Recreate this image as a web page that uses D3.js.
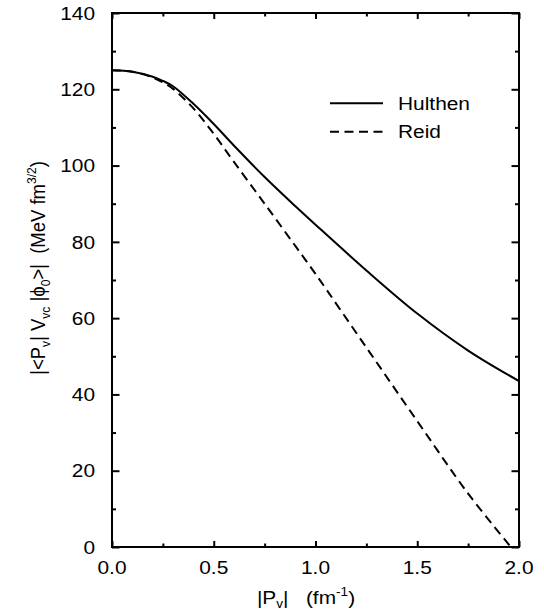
<!DOCTYPE html>
<html><head><meta charset="utf-8">
<script src="https://cdn.jsdelivr.net/npm/d3@7"></script>
<style>
html,body{margin:0;padding:0;background:#fff;}
text{font-family:"Liberation Sans",Arial,Helvetica,sans-serif;fill:#000;white-space:pre;}
</style></head>
<body>
<svg id="chart" width="544" height="616"></svg>
<script>
// Data
const momentum = [0, 0.1, 0.2, 0.25, 0.3, 0.4, 0.5, 0.6, 0.75, 0.9, 1.0, 1.25, 1.5, 1.75, 2.0];
const hulthen  = [125, 124.6, 123.3, 122.2, 120.8, 116.2, 110.9, 105.2, 97.0, 89.4, 84.5, 72.5, 61.2, 51.5, 43.5];
const reidMomentum = [0, 0.1, 0.2, 0.25, 0.3, 0.4, 0.5, 0.6, 0.75, 0.9, 1.0, 1.25, 1.5, 1.75, 1.96];
const reid     = [125, 124.6, 123.1, 121.8, 120.1, 115.0, 108.3, 100.9, 90.0, 79.0, 71.6, 52.3, 33.0, 14.0, 0];
const xTicks = [0, 0.5, 1.0, 1.5, 2.0];
const xTickLabels = ["0.0", "0.5", "1.0", "1.5", "2.0"];
const yTicks = [0, 20, 40, 60, 80, 100, 120, 140];
const yTickLabels = ["0", "20", "40", "60", "80", "100", "120", "140"];
const seriesNames = ["Hulthen", "Reid"];

const L = 112, R = 519, T = 13, B = 547;
const SX = 1.13, FS = 18.5;
const svg = d3.select("#chart");
const x = d3.scaleLinear().domain([0, 2]).range([L, R]);
const y = d3.scaleLinear().domain([0, 140]).range([B, T]);

// ticks
const g = svg.append("g");
function axisStyle(sel){ sel.select(".domain").remove(); sel.selectAll("line").attr("stroke","#000").attr("stroke-width",2); sel.selectAll("text").remove(); }
g.append("g").attr("transform",`translate(0,${B})`).call(d3.axisBottom(x).tickValues(xTicks).tickSize(-6).tickSizeOuter(0)).call(axisStyle);
g.append("g").attr("transform",`translate(0,${B})`).call(d3.axisBottom(x).tickValues([0.25,0.75,1.25,1.75]).tickSize(-3.5).tickSizeOuter(0)).call(axisStyle);
g.append("g").attr("transform",`translate(0,${T})`).call(d3.axisTop(x).tickValues(xTicks).tickSize(-6).tickSizeOuter(0)).call(axisStyle);
g.append("g").attr("transform",`translate(0,${T})`).call(d3.axisTop(x).tickValues([0.25,0.75,1.25,1.75]).tickSize(-3.5).tickSizeOuter(0)).call(axisStyle);
g.append("g").attr("transform",`translate(${L},0)`).call(d3.axisLeft(y).tickValues(yTicks).tickSize(-7.5).tickSizeOuter(0)).call(axisStyle);
g.append("g").attr("transform",`translate(${L},0)`).call(d3.axisLeft(y).tickValues(d3.range(10,140,20)).tickSize(-4).tickSizeOuter(0)).call(axisStyle);
g.append("g").attr("transform",`translate(${R},0)`).call(d3.axisRight(y).tickValues(yTicks).tickSize(-7.5).tickSizeOuter(0)).call(axisStyle);
g.append("g").attr("transform",`translate(${R},0)`).call(d3.axisRight(y).tickValues(d3.range(10,140,20)).tickSize(-4).tickSizeOuter(0)).call(axisStyle);

// frame
svg.append("rect").attr("x",L).attr("y",T).attr("width",R-L).attr("height",B-T)
  .attr("fill","none").attr("stroke","#000").attr("stroke-width",2);

// tick labels
xTicks.forEach((v,i)=>{
  svg.append("g").attr("transform",`translate(${x(v)},574) scale(${SX},1)`)
    .append("text").attr("text-anchor","middle").attr("font-size",FS).text(xTickLabels[i]);
});
yTicks.forEach((v,i)=>{
  svg.append("g").attr("transform",`translate(95,${y(v)}) scale(${SX},1)`)
    .append("text").attr("text-anchor","end").attr("dy","0.36em").attr("font-size",FS).text(yTickLabels[i]);
});

// curves
const line = d3.line().x(d=>x(d[0])).y(d=>y(d[1])).curve(d3.curveCatmullRom.alpha(0.5));
svg.append("path").datum(momentum.map((m,i)=>[m,hulthen[i]]))
  .attr("d",line).attr("fill","none").attr("stroke","#000").attr("stroke-width",2);
svg.append("path").datum(reidMomentum.map((m,i)=>[m,reid[i]]))
  .attr("d",line).attr("fill","none").attr("stroke","#000").attr("stroke-width",2)
  .attr("stroke-dasharray","9,5.5");

// legend
const leg = [{name:seriesNames[0], ly:103.3, ty:109.5, dash:null},{name:seriesNames[1], ly:131.7, ty:137.7, dash:"9,5.5"}];
leg.forEach(d=>{
  const l = svg.append("line").attr("x1",330).attr("x2",383).attr("y1",d.ly).attr("y2",d.ly)
    .attr("stroke","#000").attr("stroke-width",2);
  if(d.dash) l.attr("stroke-dasharray",d.dash);
  svg.append("g").attr("transform",`translate(398,${d.ty}) scale(${SX},1)`)
    .append("text").attr("font-size",FS).text(d.name);
});

// x title
const xt = svg.append("g").attr("transform",`translate(306,604) scale(${SX},1)`)
  .append("text").attr("text-anchor","middle").attr("font-size",FS);
xt.append("tspan").text("|P");
xt.append("tspan").attr("font-size",FS*0.65).attr("dy",4).text("v");
xt.append("tspan").attr("dy",-4).text("|   (fm");
xt.append("tspan").attr("font-size",FS*0.65).attr("dy",-8).text("-1");
xt.append("tspan").attr("dy",8).text(")");

// y title
const yt = svg.append("g").attr("transform",`translate(45,268) scale(${SX},1) rotate(-90)`)
  .append("text").attr("text-anchor","middle").attr("font-size",FS);
yt.append("tspan").text("|<P");
yt.append("tspan").attr("font-size",FS*0.65).attr("dy",4).text("v");
yt.append("tspan").attr("dy",-4).text("| V");
yt.append("tspan").attr("font-size",FS*0.65).attr("dy",4).text("vc");
yt.append("tspan").attr("dy",-4).text(" |ϕ");
yt.append("tspan").attr("font-size",FS*0.65).attr("dy",4).text("0");
yt.append("tspan").attr("dy",-4).text(">|  (MeV fm");
yt.append("tspan").attr("font-size",FS*0.65).attr("dy",-8).text("3/2");
yt.append("tspan").attr("dy",8).text(")");
</script>
</body></html>
